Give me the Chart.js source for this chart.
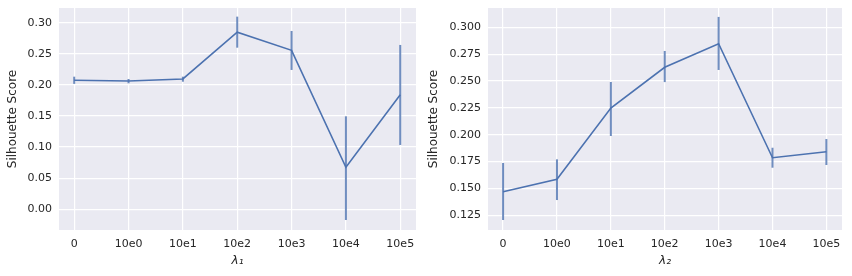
<!DOCTYPE html>
<html>
<head>
<meta charset="utf-8">
<script src="https://cdn.jsdelivr.net/npm/chart.js@4"></script>
<style>
  html, body { margin: 0; padding: 0; background: #fff; }
  #wrap { position: relative; width: 852px; height: 276px; }
  .panel { position: absolute; top: 0; width: 426px; height: 276px; }
</style>
</head>
<body>
<div id="wrap">
  <div class="panel" style="left:0"><canvas id="chart-l1"></canvas></div>
  <div class="panel" style="left:426px"><canvas id="chart-l2"></canvas></div>
</div>
<script>
// x categories (same for both panels)
const categories = ['0', '10e0', '10e1', '10e2', '10e3', '10e4', '10e5'];

// left panel : lambda_1
const lambda1Mean = [0.2074, 0.2063, 0.2095, 0.2846, 0.2556, 0.0675, 0.1843];
const lambda1Low  = [0.2016, 0.2025, 0.2051, 0.2598, 0.2240, -0.0172, 0.1034];
const lambda1High = [0.2132, 0.2095, 0.2132, 0.3097, 0.2867, 0.1495, 0.2642];
const lambda1Ticks = [0.00, 0.05, 0.10, 0.15, 0.20, 0.25, 0.30];

// right panel : lambda_2
const lambda2Mean = [0.1470, 0.1585, 0.2249, 0.2628, 0.2847, 0.1786, 0.1842];
const lambda2Low  = [0.1206, 0.1392, 0.1988, 0.2490, 0.2603, 0.1693, 0.1718];
const lambda2High = [0.1737, 0.1771, 0.2491, 0.2780, 0.3097, 0.1879, 0.1960];
const lambda2Ticks = [0.125, 0.150, 0.175, 0.200, 0.225, 0.250, 0.275, 0.300];

const LINE = '#4C72B0';
const ERR = 'rgba(76,114,176,0.8)';
const TXT = '#262626';
const FONT = 'DejaVu Sans';

// fond gris seaborn + barres d'erreur
const seabornPlugin = {
  id: 'seaborn',
  beforeDraw(chart) {
    const { ctx, chartArea: a } = chart;
    ctx.save();
    ctx.fillStyle = '#EAEAF2';
    ctx.fillRect(a.left, a.top, a.right - a.left, a.bottom - a.top);
    ctx.restore();
  },
  beforeDatasetsDraw(chart) {
    const { ctx, scales } = chart;
    const ds = chart.data.datasets[0];
    ctx.save();
    ctx.strokeStyle = ERR;
    ctx.lineWidth = 2;
    ds.errLow.forEach((lo, i) => {
      const x = scales.x.getPixelForValue(i);
      ctx.beginPath();
      ctx.moveTo(x, scales.y.getPixelForValue(lo));
      ctx.lineTo(x, scales.y.getPixelForValue(ds.errHigh[i]));
      ctx.stroke();
    });
    ctx.restore();
  },
};

function makeChart(id, mean, low, high, yTicks, yMin, yMax, decimals, xTitle, yWidth, yTitlePad) {
  return new Chart(document.getElementById(id), {
    type: 'line',
    data: {
      datasets: [{
        data: mean.map((v, i) => ({ x: i, y: v })),
        errLow: low,
        errHigh: high,
        borderColor: LINE,
        borderWidth: 1.6,
        pointRadius: 0,
        tension: 0,
        fill: false,
      }],
    },
    options: {
      responsive: true,
      maintainAspectRatio: false,
      animation: false,
      layout: { padding: { top: 8, right: 10, bottom: 0, left: 0 } },
      plugins: { legend: { display: false }, tooltip: { enabled: false } },
      scales: {
        x: {
          type: 'linear',
          min: -0.28,
          max: 6.29,
          afterBuildTicks: s => { s.ticks = categories.map((c, i) => ({ value: i })); },
          afterFit: s => { s.height = 46; s.paddingLeft = 0; s.paddingRight = 0; },
          ticks: {
            callback: v => categories[v],
            color: TXT, font: { family: FONT, size: 11 }, padding: 8,
            maxRotation: 0, autoSkip: false,
          },
          grid: { color: '#ffffff', lineWidth: 1.2, drawTicks: false },
          border: { display: false },
          title: {
            display: true, text: xTitle, color: TXT,
            font: { family: FONT, size: 12, style: 'italic' }, padding: { top: 0, bottom: 8 },
          },
        },
        y: {
          min: yMin,
          max: yMax,
          afterBuildTicks: s => { s.ticks = yTicks.map(v => ({ value: v })); },
          afterFit: s => { s.width = yWidth; s.paddingTop = 0; s.paddingBottom = 0; },
          ticks: {
            callback: v => v.toFixed(decimals),
            color: TXT, font: { family: FONT, size: 11 }, padding: 7,
          },
          grid: { color: '#ffffff', lineWidth: 1.2, drawTicks: false },
          border: { display: false },
          title: {
            display: true, text: 'Silhouette Score', color: TXT,
            font: { family: FONT, size: 12 }, padding: { top: yTitlePad, bottom: 0 },
          },
        },
      },
    },
    plugins: [seabornPlugin],
  });
}

makeChart('chart-l1', lambda1Mean, lambda1Low, lambda1High, lambda1Ticks,
          -0.0333, 0.3236, 2, 'λ₁', 59, 6);
makeChart('chart-l2', lambda2Mean, lambda2Low, lambda2High, lambda2Ticks,
          0.1113, 0.318, 3, 'λ₂', 62, 1);
</script>
</body>
</html>
